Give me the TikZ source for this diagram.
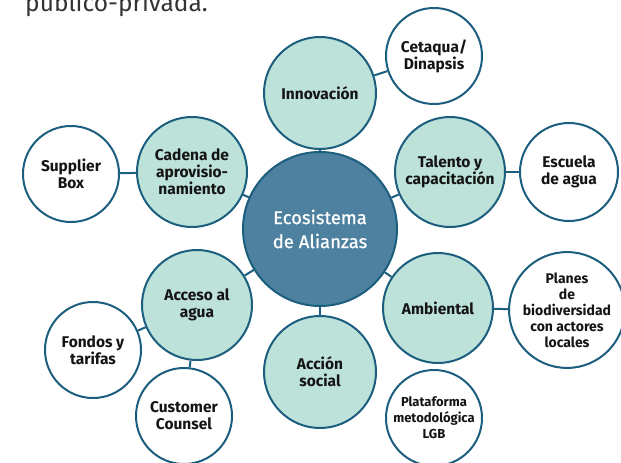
\documentclass[tikz,border=0pt]{standalone}
\usepackage{fontspec}
\setmainfont{Fira Sans}
\newfontfamily\coremedium[FakeBold=0.8]{Fira Sans}
\definecolor{edgeblue}{HTML}{1C5E7E}
\definecolor{corefill}{HTML}{4E809F}
\definecolor{mintfill}{HTML}{BDE2DA}
\definecolor{txtdark}{HTML}{141414}
\definecolor{toptxt}{HTML}{333333}
\tikzset{
  bub/.style={circle, draw=edgeblue, line width=2pt, inner sep=0pt, align=center, text=txtdark,
     font=\bfseries\fontsize{15.5}{16.8}\selectfont},
  mint/.style={bub, fill=mintfill},
  plain/.style={bub, fill=white},
  small/.style={font=\bfseries\fontsize{14}{16}\selectfont},
  smaller/.style={font=\bfseries\fontsize{13}{16}\selectfont},
  core/.style={circle, draw=edgeblue, line width=2pt, fill=corefill, inner sep=0pt, align=center,
     text=white, font=\coremedium\fontsize{18.5}{24}\selectfont},
  link/.style={draw=edgeblue, line width=2pt},
}
\begin{document}
\begin{tikzpicture}[x=1pt,y=-1pt]
\useasboundingbox (0,0) rectangle (621,463);
\node[anchor=base west, text=toptxt, font=\fontsize{24.5}{28}\selectfont, inner sep=0pt] (title) at (25,11) {público-privada.};
\node[core, minimum size=154pt] (eco) at (320,229) {Ecosistema\\de Alianzas};
\node[mint, minimum size=112pt] (inn) at (320,93) {Innovación};
\node[plain, minimum size=96pt] (cet) at (434,56) {Cetaqua/\\Dinapsis};
\node[mint, minimum size=110pt] (tal) at (450,172) {Talento y\\capacitación};
\node[plain, minimum size=98pt] (esc) at (569,172) {Escuela\\de agua};
\node[mint, minimum size=110pt] (cad) at (192,172) {Cadena de\\aprovisio-\\namiento};
\node[plain, minimum size=96pt] (sup) at (71,174) {Supplier\\Box};
\node[mint, minimum size=110pt] (acc) at (197,305) {Acceso al\\agua};
\node[plain, minimum size=96pt] (fon) at (93,350) {Fondos y\\tarifas};
\node[plain, minimum size=96pt] (cus) at (184,416) {Customer\\Counsel};
\node[mint, minimum size=112pt] (acs) at (320,372) {Acción\\social};
\node[mint, minimum size=110pt] (amb) at (438,308) {Ambiental};
\node[plain, small, minimum size=102pt] (pla) at (567,310) {Planes\\de\\biodiversidad\\con actores\\locales};
\node[plain, smaller, minimum size=96pt] (plt) at (434,418) {Plataforma\\metodológica\\LGB};
\draw[link] (eco) -- (inn);
\draw[link] (inn) -- (cet);
\draw[link] (eco) -- (tal);
\draw[link] (tal) -- (esc);
\draw[link] (eco) -- (cad);
\draw[link] (cad) -- (sup);
\draw[link] (eco) -- (acc);
\draw[link] (acc) -- (fon);
\draw[link] (acc) -- (cus);
\draw[link] (eco) -- (acs);
\draw[link] (eco) -- (amb);
\draw[link] (amb) -- (pla);
\end{tikzpicture}
\end{document}
